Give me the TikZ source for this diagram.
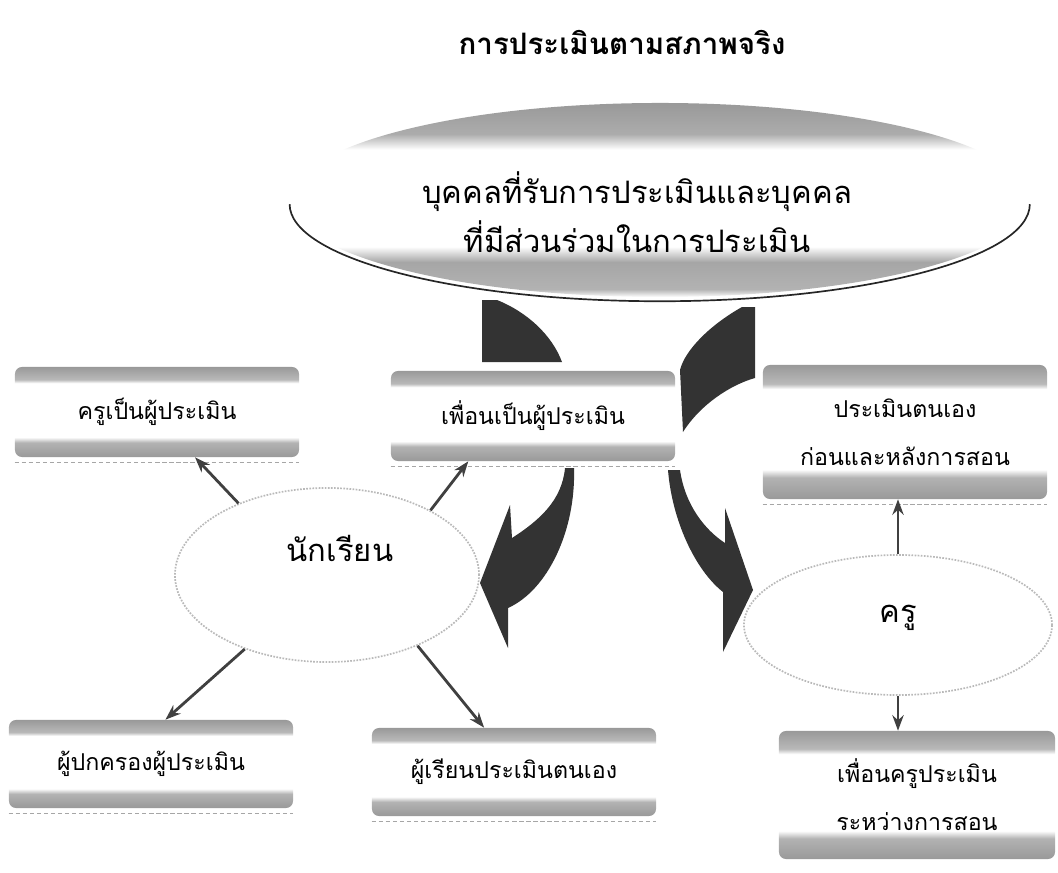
\documentclass[tikz,border=0pt]{standalone}
\usepackage{fontspec}
\newfontfamily\thaifont[Script=Thai]{Loma}
\usetikzlibrary{arrows.meta,shapes.geometric}

\pgfdeclareverticalshading{boxband}{100bp}{color(0bp)=(white); color(25bp)=(gray!80); color(33bp)=(gray!60); color(36bp)=(white); color(66bp)=(white); color(68bp)=(gray!55); color(75bp)=(gray!80); color(100bp)=(white)}
\pgfdeclareverticalshading{ovalband}{100bp}{color(0bp)=(white); color(25bp)=(white); color(27bp)=(gray!60); color(34bp)=(gray!70); color(38bp)=(white); color(63bp)=(white); color(67bp)=(gray!65); color(75bp)=(gray!80); color(100bp)=(white)}

\begin{document}
\begin{tikzpicture}[x=0.025cm, y=-0.025cm,
	head/.style={font=\thaifont\bfseries\fontsize{21}{24}\selectfont},
	big/.style={font=\thaifont\fontsize{22}{35}\selectfont, align=center},
	box/.style={rectangle, rounded corners=5pt, shade, shading=boxband, inner sep=0pt,
		minimum width=7.1cm, minimum height=2.25cm, align=center,
		font=\thaifont\fontsize{16.5}{34}\selectfont},
	oval/.style={ellipse, fill=white, draw=gray!55, densely dotted, line width=1.2pt, inner sep=0pt},
	link/.style={draw=black!75, line width=2pt, -{Stealth[length=11pt, width=8pt]}},
	swoop/.style={fill=black!80}]
	\useasboundingbox (0,0) rectangle (1058,873);

	% title and top oval
	\node (T)  at (622, 42)	[head]	{การประเมินตามสภาพจริง};
	\node (E1) at (660,200)	[ellipse, shade, shading=ovalband, inner sep=0pt,
		minimum width=18.5cm, minimum height=4.85cm]	{};
	\draw[black!85, line width=1.2pt] ([yshift=-3pt]E1.west)
		arc[start angle=180, end angle=360, x radius=9.25cm, y radius=2.425cm];
	\node (L1) at (637,212)	[big]	{บุคคลที่รับการประเมินและบุคคล\\ที่มีส่วนร่วมในการประเมิน};

	% upper parts of the two curved arrows
	\fill[swoop] (482,300) -- (497,300) .. controls (527,312) and (552,335) .. (562,362) -- (482,362) -- cycle;
	\fill[swoop] (755,307) -- (742,307) .. controls (710,325) and (685,350) .. (680,370)
		-- (683,432) .. controls (700,405) and (730,385) .. (755,378) -- cycle;

	% boxes
	\node (R1) at (157,412)	[box]	{ครูเป็นผู้ประเมิน};
	\node (R2) at (533,416)	[box]	{เพื่อนเป็นผู้ประเมิน};
	\node (R3) at (905,432)	[box, minimum height=3.35cm]	{ประเมินตนเอง\\ก่อนและหลังการสอน};

	% lower parts of the curved arrows
	\fill[swoop] (565,468) -- (574,468) .. controls (576,530) and (548,590) .. (508,608)
		-- (508,648) -- (480,583) -- (510,505) -- (512,538) .. controls (540,520) and (562,500) .. (565,468) -- cycle;
	\fill[swoop] (668,470) .. controls (672,520) and (695,570) .. (723,592)
		-- (723,652) -- (753,590) -- (725,508) -- (725,543) .. controls (705,530) and (685,505) .. (680,470) -- cycle;

	% the two groups
	\node (E2) at (327,575)	[oval, minimum width=7.6cm, minimum height=4.35cm]	{};
	\node (N2) at (340,548)	[big]	{นักเรียน};
	\node (E3) at (898,625)	[oval, minimum width=7.7cm, minimum height=3.5cm]	{};
	\node (N3) at (898,618)	[big]	{ครู};

	\node (R4) at (151,764)	[box, minimum height=2.2cm]	{ผู้ปกครองผู้ประเมิน};
	\node (R5) at (514,772)	[box, minimum height=2.2cm]	{ผู้เรียนประเมินตนเอง};
	\node (R6) at (917,795)	[box, minimum width=6.9cm, minimum height=3.2cm]	{เพื่อนครูประเมิน\\ระหว่างการสอน};

	\foreach \b in {R1,R2,R3,R4,R5}
		\draw[gray!70, densely dashed, line width=0.8pt] ([yshift=-4pt]\b.south west) -- ([yshift=-4pt]\b.south east);

	\draw[link] (E2.141) -- (R1.-50);
	\draw[link] (E2.32)  -- (R2.215);
	\draw[link] (E2.222) -- (R4.72);
	\draw[link] (E2.322) -- (R5.124);
	\draw[link] (E3.north) -- (E3.north |- R3.south);
	\draw[link] (E3.south) -- (E3.south |- R6.north);
\end{tikzpicture}
\end{document}
